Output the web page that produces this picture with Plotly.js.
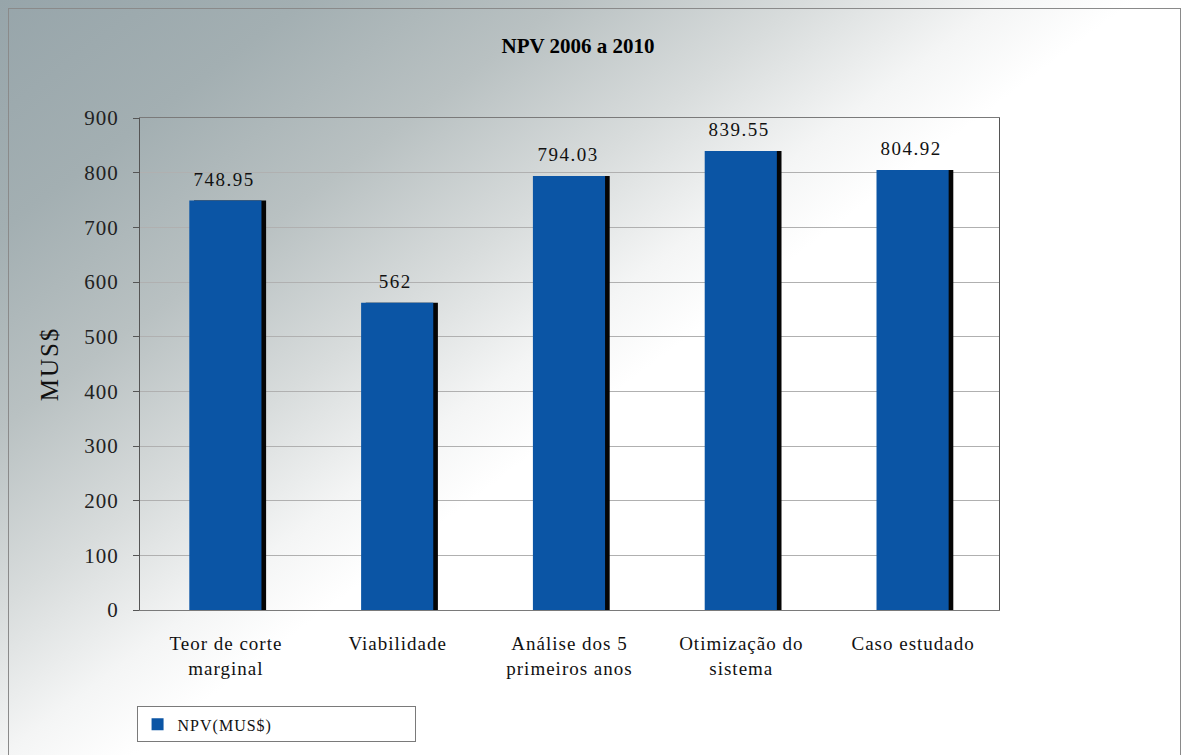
<!DOCTYPE html>
<html>
<head>
<meta charset="utf-8">
<script src="https://cdn.plot.ly/plotly-3.0.1.min.js"></script>
<style>
  html, body { margin:0; padding:0; background:#fff; }
  #wrap { position:relative; width:1182px; height:755px; overflow:hidden;
    background: linear-gradient(143deg, #97a5aa 0%, #a3afb2 14%, #b9c1c2 26%, #d8dcdc 37%, #f4f5f5 46%, #ffffff 52%, #ffffff 100%); }
  #chart { position:absolute; left:0; top:0; width:1182px; height:755px; }
  #frame { position:absolute; left:8px; top:8px; width:1171px; height:760px; border:1px solid #8a8a8a; pointer-events:none; }
  #chart .xtick text { letter-spacing: 1px; }
  #chart .ytick text { letter-spacing: 1px; }
  #chart .annotation-text { letter-spacing: 1.5px; }
  #chart .legendtext { letter-spacing: 1px; }
  #chart .ytitle { letter-spacing: 2px; }
</style>
</head>
<body>
<div id="wrap">
  <div id="chart"></div>
  <div id="frame"></div>
</div>
<script>
const categories = ["Teor de corte<br>marginal", "Viabilidade", "Análise dos 5<br>primeiros anos", "Otimização do<br>sistema", "Caso estudado"];
const npvValues = [748.95, 562, 794.03, 839.55, 804.92];
const npvLabels = ["748.95", "562", "794.03", "839.55", "804.92"];
const yTicks = [0, 100, 200, 300, 400, 500, 600, 700, 800, 900];

const serif = "Liberation Serif";

const shadow = {
  type: "bar", x: categories, y: npvValues,
  width: 0.42, offset: -0.21 + 0.024,
  marker: { color: "#050505", line: { width: 0 } },
  showlegend: false, hoverinfo: "skip"
};
const main = {
  type: "bar", name: "NPV(MUS$)", x: categories, y: npvValues,
  width: 0.42, offset: -0.21 - 0.003,
  marker: { color: "#0b55a5", line: { width: 0 } }
};

const labelAnnotations = categories.map((c, i) => ({
  x: c, y: npvValues[i], xref: "x", yref: "y", text: npvLabels[i],
  showarrow: false, yanchor: "bottom", yshift: 9, xshift: -2,
  font: { family: serif, size: 19, color: "#111" }
}));

const layout = {
  width: 1182, height: 755,
  paper_bgcolor: "rgba(0,0,0,0)", plot_bgcolor: "rgba(0,0,0,0)",
  margin: { l: 140, r: 183, t: 118, b: 142 },
  barmode: "overlay",
  title: { text: "<b>NPV 2006 a 2010</b>", x: 0.489, xanchor: "center", y: 0.94, yref: "container", yanchor: "middle",
           font: { family: serif, size: 21, color: "#000" } },
  xaxis: {
    type: "category", showgrid: false, showline: true, linecolor: "#7a7a7a", linewidth: 1, mirror: true,
    ticks: "", ticklabelstandoff: 16, tickfont: { family: serif, size: 19, color: "#111" }
  },
  yaxis: {
    range: [0, 900], tickvals: yTicks, showgrid: true, gridcolor: "#b0b0b0", gridwidth: 1,
    showline: true, linecolor: "#555", linewidth: 1, mirror: true,
    ticks: "outside", ticklen: 6, tickcolor: "#555", ticklabelstandoff: 10,
    tickfont: { family: serif, size: 21, color: "#222" },
    title: { text: "MUS$", font: { family: serif, size: 25, color: "#111" }, standoff: 21 },
    zeroline: false
  },
  annotations: labelAnnotations,
  showlegend: true,
  legend: {
    x: -0.004, y: -0.196, xanchor: "left", yanchor: "top", orientation: "h",
    bgcolor: "#ffffff", bordercolor: "#7a7a7a", borderwidth: 1,
    font: { family: serif, size: 16, color: "#111" },
    entrywidth: 232, itemwidth: 30
  }
};

Plotly.newPlot("chart", [shadow, main], layout, { displayModeBar: false, staticPlot: true });
</script>
</body>
</html>
